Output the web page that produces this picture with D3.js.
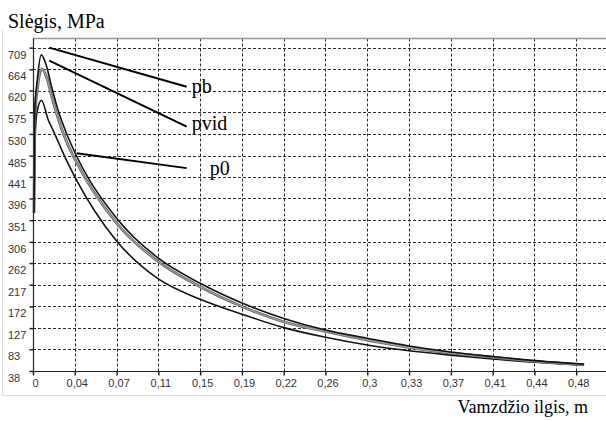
<!DOCTYPE html>
<html>
<head>
<meta charset="utf-8">
<script src="https://cdn.jsdelivr.net/npm/d3@7"></script>
<style>
  body { margin: 0; background: #fff; }
  svg { display: block; }
</style>
</head>
<body>
<div id="chart"></div>
<script>
// ---- data ----
var pbX   = [0.0009, 0.0015, 0.0038, 0.0073, 0.0118, 0.0162, 0.0221, 0.0295, 0.037, 0.074, 0.111, 0.148, 0.185, 0.222, 0.259, 0.296, 0.333, 0.370, 0.407, 0.444, 0.488];
var pbY   = [366, 575, 642, 694, 672, 630, 580, 532, 492, 355, 272, 220, 179, 147, 123, 106, 90, 77.5, 68, 59.5, 52];

var pvidX = [0.0009, 0.0016, 0.0042, 0.0078, 0.012, 0.0165, 0.0225, 0.0295, 0.037, 0.074, 0.111, 0.148, 0.185, 0.222, 0.259, 0.296, 0.333, 0.370, 0.407, 0.444, 0.488];
var pvidY = [366, 560, 630, 665, 648, 608, 560, 515, 478, 345, 265, 213, 172, 140, 120, 102, 87, 75, 66.5, 58, 51];

var p0X   = [0.0009, 0.0018, 0.0035, 0.0075, 0.0135, 0.0177, 0.0295, 0.037, 0.074, 0.111, 0.148, 0.185, 0.222, 0.259, 0.296, 0.333, 0.370, 0.407, 0.444, 0.488];
var p0Y   = [366, 520, 575, 600, 559, 538, 476, 441, 308, 229, 187, 156, 128, 108, 92, 80, 71, 63, 56, 50];

var yTicks = [38, 83, 127, 172, 217, 262, 306, 351, 396, 441, 485, 530, 575, 620, 664, 709];
var xTicks = [0, 0.037, 0.074, 0.111, 0.148, 0.185, 0.222, 0.259, 0.296, 0.333, 0.370, 0.407, 0.444, 0.481];
var xTickLabels = ["0", "0,04", "0,07", "0,11", "0,15", "0,19", "0,22", "0,26", "0,3", "0,33", "0,37", "0,41", "0,44", "0,48"];

// callouts: [from x, from y, to x, to y, label]
var callouts = [
  [0.0144, 709, 0.1361, 628, "pb"],
  [0.0144, 682, 0.1361, 545, "pvid"],
  [0.0387, 490, 0.1361, 459, "p0"]
];

// ---- canvas ----
var width = 606, height = 421;
var plot = {left: 33, right: 606, top: 38.5, bottom: 371};

var svg = d3.select("#chart").append("svg")
    .attr("width", width)
    .attr("height", height);

var xScale = d3.scaleLinear().domain([0, 0.5074]).range([plot.left, plot.right]);
var yScale = d3.scaleLinear().domain([38, 728]).range([plot.bottom, plot.top]);

// outer light frame
svg.append("path")
    .attr("d", "M2.5,30V395.5H606")
    .attr("fill", "none")
    .attr("stroke", "#dcdcdc");

// grid
var grid = svg.append("g").attr("stroke", "#2a2a2a").attr("stroke-width", 1).attr("stroke-dasharray", "3,2");
grid.selectAll("line.h")
    .data(yTicks.slice(1))
    .enter().append("line")
    .attr("x1", plot.left).attr("x2", plot.right)
    .attr("y1", function(d) { return Math.round(yScale(d)) + 0.5; })
    .attr("y2", function(d) { return Math.round(yScale(d)) + 0.5; });
grid.selectAll("line.v")
    .data(xTicks.slice(1))
    .enter().append("line")
    .attr("y1", plot.top).attr("y2", plot.bottom)
    .attr("x1", function(d) { return Math.round(xScale(d)) + 0.5; })
    .attr("x2", function(d) { return Math.round(xScale(d)) + 0.5; });

// frame top
svg.append("line")
    .attr("x1", plot.left).attr("x2", plot.right)
    .attr("y1", plot.top).attr("y2", plot.top)
    .attr("stroke", "#999").attr("stroke-width", 1.5);

// axes
var yAxis = svg.append("g")
    .attr("transform", "translate(" + (plot.left + 0.5) + ",0)")
    .call(d3.axisLeft(yScale).tickValues(yTicks).tickSize(4).tickFormat(d3.format("d")));
var xAxis = svg.append("g")
    .attr("transform", "translate(0," + (plot.bottom + 0.5) + ")")
    .call(d3.axisBottom(xScale).tickValues(xTicks).tickSize(4)
        .tickFormat(function(d, i) { return xTickLabels[i]; }));

[yAxis, xAxis].forEach(function(a) {
    a.select(".domain").attr("stroke", "#222").attr("stroke-width", 1.2);
    a.selectAll(".tick line").attr("stroke", "#222").attr("stroke-width", 1.5);
    a.selectAll("text")
        .attr("fill", "#333")
        .style("font-family", "'Liberation Sans', Arial, sans-serif")
        .style("font-size", "11px");
});
yAxis.select(".domain").attr("d", "M0," + plot.bottom + "V" + plot.top);
yAxis.selectAll(".tick text")
    .attr("text-anchor", "start")
    .attr("x", 8 - plot.left - 0.5)
    .attr("dy", "0.95em");
xAxis.select(".domain").attr("d", "M" + plot.left + ",0H" + plot.right);
xAxis.selectAll(".tick text").attr("y", 8).attr("dx", 2);

// curves
function series(xs, ys) { return xs.map(function(x, i) { return [x, ys[i]]; }); }
var line = d3.line()
    .x(function(d) { return xScale(d[0]); })
    .y(function(d) { return yScale(d[1]); })
    .curve(d3.curveMonotoneX);

var curves = svg.append("g").attr("fill", "none").attr("stroke-linejoin", "round");
curves.append("path").attr("d", line(series(p0X, p0Y)))
    .attr("stroke", "#111").attr("stroke-width", 1.6);
curves.append("path").attr("d", line(series(pvidX, pvidY)))
    .attr("stroke", "#666").attr("stroke-width", 2.8);
curves.append("path").attr("d", line(series(pvidX, pvidY)))
    .attr("stroke", "#a0a0a0").attr("stroke-width", 1.2);
curves.append("path").attr("d", line(series(pbX, pbY)))
    .attr("stroke", "#111").attr("stroke-width", 1.6);

// callouts
var co = svg.append("g");
co.selectAll("line")
    .data(callouts)
    .enter().append("line")
    .attr("x1", function(d) { return xScale(d[0]); })
    .attr("y1", function(d) { return yScale(d[1]); })
    .attr("x2", function(d) { return xScale(d[2]); })
    .attr("y2", function(d) { return yScale(d[3]); })
    .attr("stroke", "#000").attr("stroke-width", 2);
co.selectAll("text")
    .data(callouts)
    .enter().append("text")
    .attr("x", function(d, i) { return xScale(d[2]) + (i === 2 ? 23 : 5); })
    .attr("y", function(d, i) { return yScale(d[3]) + [6, 3, 7][i]; })
    .style("font-family", "'Liberation Serif', 'Times New Roman', serif")
    .style("font-size", "20px")
    .attr("fill", "#000")
    .text(function(d) { return d[4]; });

// titles
svg.append("text")
    .attr("x", 8).attr("y", 28)
    .style("font-family", "'Liberation Serif', 'Times New Roman', serif")
    .style("font-size", "20px")
    .text("Slėgis, MPa");
svg.append("text")
    .attr("x", 588).attr("y", 413)
    .attr("text-anchor", "end")
    .style("font-family", "'Liberation Serif', 'Times New Roman', serif")
    .style("font-size", "18px")
    .text("Vamzdžio ilgis, m");
</script>
</body>
</html>
